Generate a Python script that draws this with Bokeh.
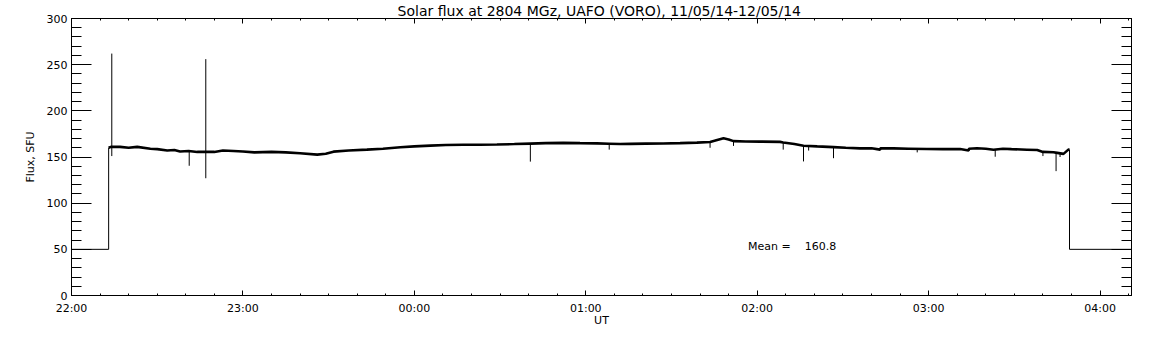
from bokeh.plotting import figure
from bokeh.models import LinearAxis, FixedTicker, Range1d, Label
from bokeh.embed import file_html
from bokeh.resources import INLINE

# ---------------- data ----------------
title_text = "Solar flux at 2804 MGz, UAFO (VORO),  11/05/14-12/05/14"
x_label = "UT"
y_label = "Flux, SFU"

# x in minutes after 22:00 UT (11/05/14)
x_start_min = 0
x_end_min = 371
hour_ticks_min = [0, 60, 120, 180, 240, 300, 360]
hour_tick_labels = ["22:00", "23:00", "00:00", "01:00", "02:00", "03:00", "04:00"]
minor_ticks_min = [10, 20, 30, 40, 50, 70, 80, 90, 100, 110, 130, 140, 150, 160, 170,
                   190, 200, 210, 220, 230, 250, 260, 270, 280, 290, 310, 320, 330,
                   340, 350, 370]

y_ticks = [0, 50, 100, 150, 200, 250, 300]
y_minor_ticks = [10, 20, 30, 40, 60, 70, 80, 90, 110, 120, 130, 140, 160, 170, 180, 190,
                 210, 220, 230, 240, 260, 270, 280, 290]

# no-signal level before the start and after the end of the record
pre_time_min = [0, 13.0, 13.0]
pre_flux = [50, 50, 160]
post_time_min = [349.3, 349.3, 371]
post_flux = [158, 50, 50]

# the observed record (smooth level)
time_min = [13.0, 13.8, 17, 20, 23, 27.6, 30, 33.5, 36, 38, 41.0, 44, 47.0, 50, 53, 56.7,
            60, 64, 70, 75, 80, 86, 89, 91.7, 97, 103.4, 109, 115.1, 120, 125.6, 131,
            137.1, 143, 148.9, 155, 160.6, 166, 172.1, 178, 183.9, 188.2, 192, 195.6,
            201, 207.1, 213, 218.9, 223.5, 226, 228.2, 230, 231.7, 236, 241, 248.0,
            249.1, 253, 256.2, 261, 266.7, 271, 276.0, 280, 283, 283.1, 287.7, 293,
            299.4, 305, 311.0, 314, 314.1, 316.9, 320, 322.7, 326, 329, 334.4, 338, 340,
            343.7, 345, 347.2, 348.9, 349.3]
flux_sfu = [160, 161, 161, 160, 161, 159, 158.5, 157, 157.5, 156, 156.5, 155.5, 155.5,
            155.5, 157, 156.5, 156, 155, 155.5, 155, 154, 152.6, 153.5, 155.8, 157, 158,
            159, 160.5, 161.5, 162.3, 163, 163.2, 163.3, 163.5, 164, 164.5, 165, 165.3,
            165, 164.8, 164.4, 164, 164.2, 164.5, 164.6, 165, 165.6, 166.3, 168.5, 170.3,
            169, 167.2, 166.8, 166.7, 166.4, 165.8, 164, 162.2, 161.5, 160.7, 160, 159.3,
            159.5, 158, 159.5, 159.3, 159, 158.6, 158.5, 158.6, 157, 159, 159.5, 159,
            157.9, 159, 158.5, 157.9, 157.5, 155.5, 155.1, 154.5, 153.4, 158, 158]

# short spikes / dropouts: time, low and high value
spike_time_min = [14.1, 41.2, 47.0, 160.6, 188.2, 223.5, 231.7, 249.1, 256.2, 258.0,
                  266.7, 296.0, 323.3, 340.0, 344.6, 346.0]
spike_low = [151, 140.5, 127, 145, 158, 160, 162, 158, 145.2, 157, 148.7, 155, 150.3,
             151, 134.7, 150]
spike_high = [262, 156, 256, 164.5, 164.4, 166.3, 167.2, 165.8, 162.2, 162, 160.7,
              159, 157.9, 155.5, 155, 154]

mean_flux = 160.8
mean_label_x_min = 236.8
mean_label_y = 53

FONT = "DejaVu Sans"

# ---------------- figure ----------------
p = figure(width=1136, height=329, output_backend="svg", toolbar_location=None,
           x_range=Range1d(x_start_min, x_end_min), y_range=Range1d(0, 300),
           x_axis_type=None, y_axis_type=None, title=title_text,
           min_border_left=71, min_border_right=5, min_border_top=17, min_border_bottom=31)
p.grid.visible = False
p.background_fill_color = "white"
p.border_fill_color = "white"
p.outline_line_color = "black"
p.outline_line_width = 1

p.title.align = "center"
p.title.text_font = FONT
p.title.text_font_size = "14px"
p.title.text_font_style = "normal"
p.title.text_color = "black"
p.title.standoff = 0
p.title.offset = 0

x_ticker = FixedTicker(ticks=hour_ticks_min, minor_ticks=minor_ticks_min)
y_ticker = FixedTicker(ticks=y_ticks, minor_ticks=y_minor_ticks)


def style(ax, major_in, minor_in):
    ax.axis_line_color = "black"
    ax.major_tick_line_color = "black"
    ax.minor_tick_line_color = "black"
    ax.major_tick_in = major_in
    ax.major_tick_out = 0
    ax.minor_tick_in = minor_in
    ax.minor_tick_out = 0
    ax.major_label_text_font = FONT
    ax.major_label_text_font_size = "11px"
    ax.major_label_text_color = "black"
    ax.axis_label_text_font = FONT
    ax.axis_label_text_font_size = "11px"
    ax.axis_label_text_font_style = "normal"
    ax.axis_label_text_color = "black"


bottom = LinearAxis(ticker=x_ticker, axis_label=x_label,
                    major_label_overrides={t: l for t, l in zip(hour_ticks_min, hour_tick_labels)})
style(bottom, 5, 2)
bottom.major_label_standoff = 6
bottom.axis_label_standoff = -4
p.add_layout(bottom, "below")

top = LinearAxis(ticker=x_ticker,
                 major_label_overrides={t: "" for t in hour_ticks_min})
style(top, 5, 2)
top.major_label_text_font_size = "0px"
top.major_label_standoff = 0
p.add_layout(top, "above")

left = LinearAxis(ticker=y_ticker, axis_label=y_label)
style(left, 20, 10)
left.major_label_standoff = 4
left.axis_label_standoff = 7
p.add_layout(left, "left")

right = LinearAxis(ticker=y_ticker,
                   major_label_overrides={t: "" for t in y_ticks})
style(right, 20, 10)
right.major_label_text_font_size = "0px"
right.major_label_standoff = 0
p.add_layout(right, "right")

p.line(pre_time_min, pre_flux, line_color="black", line_width=1)
p.line(post_time_min, post_flux, line_color="black", line_width=1)
p.line(time_min, flux_sfu, line_color="black", line_width=2.6)
p.segment(x0=spike_time_min, y0=spike_low, x1=spike_time_min, y1=spike_high,
          line_color="black", line_width=1)

mean_lbl = Label(x=mean_label_x_min, y=mean_label_y,
                 text=f"Mean =\u00a0\u00a0\u00a0 {mean_flux}",
                 text_align="left", text_baseline="middle",
                 text_font=FONT, text_font_size="11px", text_color="black")
p.add_layout(mean_lbl)

open("out.html", "w").write(file_html(p, INLINE))
